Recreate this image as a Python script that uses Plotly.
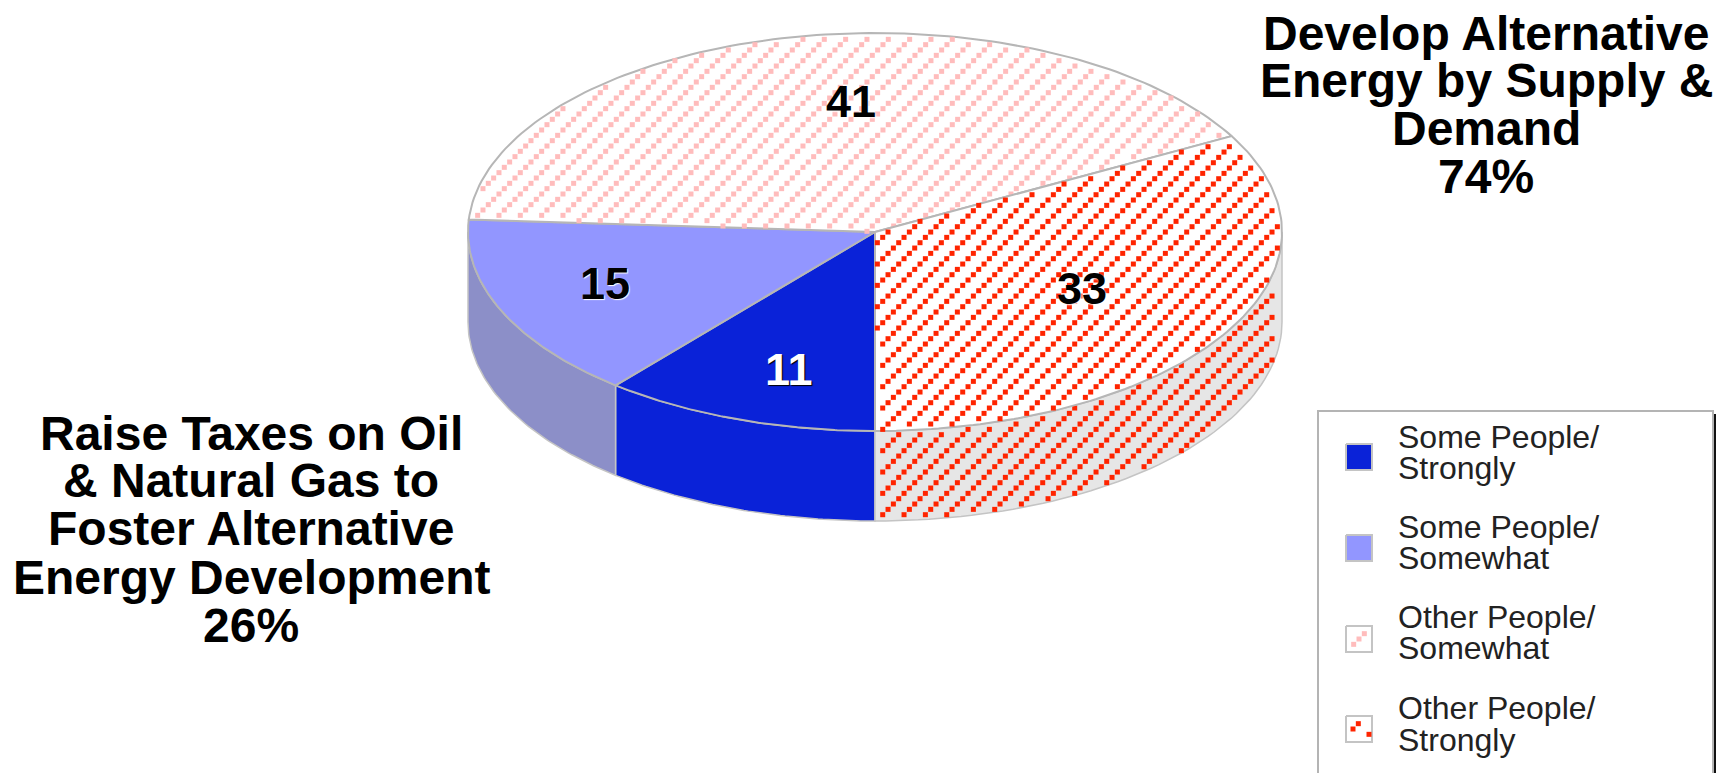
import numpy as np
import plotly.graph_objects as go

# ---- data ----
slice_names = ["Some People/ Strongly", "Some People/ Somewhat", "Other People/ Somewhat", "Other People/ Strongly"]
slice_values = [11, 15, 41, 33]
legend_lines = [["Some People/", "Strongly"], ["Some People/", "Somewhat"],
                ["Other People/", "Somewhat"], ["Other People/", "Strongly"]]
left_lines = ["Raise Taxes on Oil", "& Natural Gas to", "Foster Alternative", "Energy Development", "26%"]
right_lines = ["Develop Alternative", "Energy by Supply &", "Demand", "74%"]

# ---- styling / geometry ----
W, H = 1726, 773
CX, CY, RX, RY, DEPTH = 875, 232, 407, 199, 90
EDGE = "#b6b6b6"
FONT = "Liberation Sans, Arial, sans-serif"
face_bg = ["#0a22d8", "#9296ff", "#ffffff", "#ffffff"]
dot_col = [None, None, "#ffbcbc", "#ff2400"]
wall_bg = {0: "#0a22d8", 1: "#8c8fc8", 3: "#e6e6e6"}
label_xy = [(789, 369), (605, 283), (851, 101), (1082, 288)]
label_col = ["white", "black", "black", "black"]
label_shadow = ["1px 1px 1px black", "1px 1px 1px white", "1px 1px 2px white", "1px 1px 2px white"]
swatch_y = [457, 548, 639, 729]
swatch_phase = [0, 0, 0, -6]
legend_y = [(437, 468), (527, 558), (617, 648), (708, 740)]
left_y = [433, 480, 528, 577, 625]
right_y = [33, 80, 128, 176]

def ex(t):
    return CX - RX * np.sin(t)

def ey(t):
    return CY + RY * np.cos(t)

def lattice(phx=1010.7, phy=322.7):
    i, j = np.meshgrid(np.arange(-260, 260), np.arange(-60, 60))
    x = phx + 5.333 * i + 21.333 * j
    y = phy - 5.333 * i
    keep = (x > 0) & (x < W) & (y > 0) & (y < H)
    return x[keep], y[keep]

fig = go.Figure()

def poly(x, y, fill, line=EDGE, lw=2):
    fig.add_trace(go.Scatter(x=x, y=y, mode="lines", fill="toself", fillcolor=fill,
                             line=dict(color=line, width=lw), hoverinfo="skip", showlegend=False))

def dots(x, y, color, size=5):
    fig.add_trace(go.Scatter(x=x, y=y, mode="markers", hoverinfo="skip", showlegend=False,
                             marker=dict(symbol="square", size=size, color=color, line=dict(width=0))))

fr = np.cumsum([0] + slice_values) / sum(slice_values) * 2 * np.pi

# side walls (only the front half, t in [-pi/2, pi/2] measured from the front)
def wall(t0, t1, bg):
    t = np.linspace(t0, t1, 60)
    poly(np.r_[ex(t), ex(t[::-1]), ex(t[0])], np.r_[ey(t), ey(t[::-1]) + DEPTH, ey(t[0])], bg, "#c4c4c4", 1.5)

wall(fr[0], fr[1], wall_bg[0])
wall(fr[1], np.pi / 2, wall_bg[1])
wall(-np.pi / 2, 0, wall_bg[3])
wx, wy = lattice()
u = (wx - CX) / RX
inside = (np.abs(u) < 0.985) & (wx > CX + 3)
wx, wy = wx[inside], wy[inside]
ytop = CY + RY * np.sqrt(1 - ((wx - CX) / RX) ** 2)
m = (wy > ytop + 2) & (wy < ytop + DEPTH - 2)
dots(wx[m], wy[m], dot_col[3])

# top face
for k in range(4):
    t = np.linspace(fr[k], fr[k + 1], 120)
    poly(np.r_[CX, ex(t), CX], np.r_[CY, ey(t), CY], face_bg[k])
    if dot_col[k]:
        x, y = lattice() if k == 3 else lattice(1048.3, 114)
        dx, dy = (x - CX) / RX, (y - CY) / RY
        ang = np.mod(np.arctan2(-dx, dy), 2 * np.pi)
        m = (dx ** 2 + dy ** 2 < 0.985) & (ang > fr[k] + 0.012) & (ang < fr[k + 1] - 0.012)
        dots(x[m], y[m], dot_col[k])

# legend swatches
for k, yc in enumerate(swatch_y):
    x0, x1 = 1346, 1372
    poly([x0, x1, x1, x0, x0], [yc - 13, yc - 13, yc + 13, yc + 13, yc - 13], face_bg[k], "#c4c4c4", 2)
    if dot_col[k]:
        x, y = lattice(1359 + swatch_phase[k], yc)
        m = (x > x0 + 2.5) & (x < x1 - 2.5) & (y > yc - 10.5) & (y < yc + 10.5)
        dots(x[m], y[m], dot_col[k])

def note(text, x, y, size, color="black", bold=False, anchor="center", shadow=None):
    font = dict(family=FONT, size=size, color=color, weight="bold" if bold else "normal")
    if shadow:
        font["shadow"] = shadow
    fig.add_annotation(x=x, y=y, text=text, showarrow=False, xref="x", yref="y",
                       xanchor=anchor, yanchor="middle", font=font)

for k, v in enumerate(slice_values):
    note(str(v), label_xy[k][0], label_xy[k][1], 45, label_col[k], True, shadow=label_shadow[k])
for s, y in zip(left_lines, left_y):
    note(s, 251, y, 48, bold=True)
for s, y in zip(right_lines, right_y):
    note(s, 1486, y, 48, bold=True)
for lines, ys in zip(legend_lines, legend_y):
    for s, y in zip(lines, ys):
        note(s, 1396, y, 32, "#222222", anchor="left")

shapes = [
    dict(type="rect", x0=1318, y0=411, x1=1713, y1=790, line=dict(color="#b4b4b4", width=2), layer="below"),
    dict(type="line", x0=1715, y0=414, x1=1715, y1=773, line=dict(color="#111111", width=2)),
]
fig.update_layout(
    width=W, height=H, margin=dict(l=0, r=0, t=0, b=0),
    paper_bgcolor="white", plot_bgcolor="white", showlegend=False, shapes=shapes,
    xaxis=dict(range=[0, W], visible=False, fixedrange=True),
    yaxis=dict(range=[H, 0], visible=False, fixedrange=True),
)
fig.write_html("out.html", post_script="document.body.style.margin='0';document.body.style.overflow='hidden';",
               config=dict(displayModeBar=False))
